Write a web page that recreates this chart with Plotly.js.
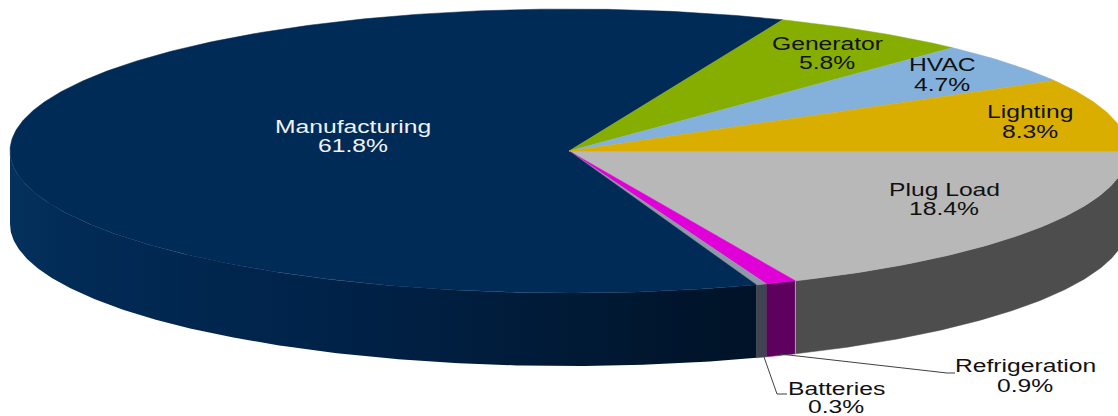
<!DOCTYPE html>
<html>
<head>
<meta charset="utf-8">
<script src="https://cdn.plot.ly/plotly-3.0.1.min.js"></script>
<style>
html,body{margin:0;padding:0;background:#fff;overflow:hidden}
#chart{width:1118px;height:416px}
.annotation-text{transform-box:fill-box;transform-origin:center;transform:scaleX(1.41)}
</style>
</head>
<body>
<div id="chart"></div>
<script>
// Data, clockwise from the 3 o'clock direction
const categories = ["Plug Load","Refrigeration","Batteries","Manufacturing","Generator","HVAC","Lighting"];
const shares = [18.4,0.9,0.3,61.8,5.8,4.7,8.3];
const topColors = ["#B8B8B8","#E000D8","#8E98A6","#002B56","#85AE00","#84B0DC","#DAAE00"];
const sideColors = ["#4D4D4D","#5E005E","#3F4450","#001428","#4A6000","#4A6A8A","#7A6000"];
const labelColors = ["#111111","#111111","#111111","#F2F2F2","#111111","#111111","#111111"];
const labelX = [944,1025,836,353,827,942,1030];
const nameY = [190,366,389,127,44,65,112];
const shareY = [209,386,407,146,63,85,132];

// Pie geometry in plot units
const cx = 569, cy = 151, rx = 559, ry = 142, depth = 73;
const total = shares.reduce((a,b)=>a+b,0);
const rad = d => d*Math.PI/180;
const px = a => cx + rx*Math.cos(rad(a));
const py = (a,dy=0) => cy + ry*Math.sin(rad(a)) + dy;
function arc(a0,a1,dy=0){
  const n = Math.max(2,Math.ceil(Math.abs(a1-a0)*2)), xs=[], ys=[];
  for(let i=0;i<=n;i++){const a=a0+(a1-a0)*i/n; xs.push(px(a)); ys.push(py(a,dy));}
  return {xs,ys};
}
const base = {type:"scatter",mode:"lines",hoverinfo:"skip",showlegend:false};
const traces = [];
const annotations = [];
let angle = 0;
const walls = [], tops = [];
categories.forEach((name,i)=>{
  const a0 = angle, a1 = angle + shares[i]/total*360;
  angle = a1;
  // side wall: only the front half of the rim shows
  const w0 = Math.max(a0,0), w1 = Math.min(a1,180);
  if(w1>w0){
    const t = arc(w0,w1), b = arc(w1,w0,depth);
    const wall = {...base,name:name+" side",x:t.xs.concat(b.xs,[t.xs[0]]),y:t.ys.concat(b.ys,[t.ys[0]]),
      fill:"toself",fillcolor:sideColors[i],line:{color:sideColors[i],width:0.5}};
    if(name==="Manufacturing"){
      wall.fillgradient={type:"horizontal",start:10,stop:760,
        colorscale:[[0,"#05315E"],[0.1,"#012A54"],[0.4,"#00234A"],[0.75,"#001A36"],[1,"#001226"]]};
      delete wall.fillcolor;
      wall.line={color:"rgba(0,0,0,0)",width:0};
    }
    walls.push(wall);
  }
  const e = arc(a0,a1);
  tops.push({...base,name,x:[cx].concat(e.xs,[cx]),y:[cy].concat(e.ys,[cy]),
    fill:"toself",fillcolor:topColors[i],line:{color:topColors[i],width:0.5}});
  const font = {family:"Liberation Sans, Arial, sans-serif",size:17.5,color:labelColors[i]};
  annotations.push({x:labelX[i],y:nameY[i],xref:"x",yref:"y",showarrow:false,text:name,font});
  annotations.push({x:labelX[i],y:shareY[i],xref:"x",yref:"y",showarrow:false,text:shares[i].toFixed(1)+"%",font});
});
traces.push(...walls,...tops);

// Pale edge on the rim where Refrigeration meets Plug Load
const edgeA = shares[0]/total*360;
traces.push({...base,x:[px(edgeA),px(edgeA)],y:[py(edgeA),py(edgeA,depth)],line:{color:"#B79AB7",width:1}});

// Leader lines
const leaderRefrigerationX = [780,947,955], leaderRefrigerationY = [354,373,373];
const leaderBatteriesX = [764,777,787], leaderBatteriesY = [357,394,394];
traces.push({...base,x:leaderRefrigerationX,y:leaderRefrigerationY,line:{color:"#404040",width:1}});
traces.push({...base,x:leaderBatteriesX,y:leaderBatteriesY,line:{color:"#404040",width:1}});

Plotly.newPlot("chart",traces,{
  width:1118,height:416,margin:{l:0,r:0,t:0,b:0},
  paper_bgcolor:"#fff",plot_bgcolor:"#fff",
  xaxis:{range:[0,1118],visible:false,fixedrange:true},
  yaxis:{range:[416,0],visible:false,fixedrange:true},
  annotations
},{displayModeBar:false,staticPlot:true});
</script>
</body>
</html>
